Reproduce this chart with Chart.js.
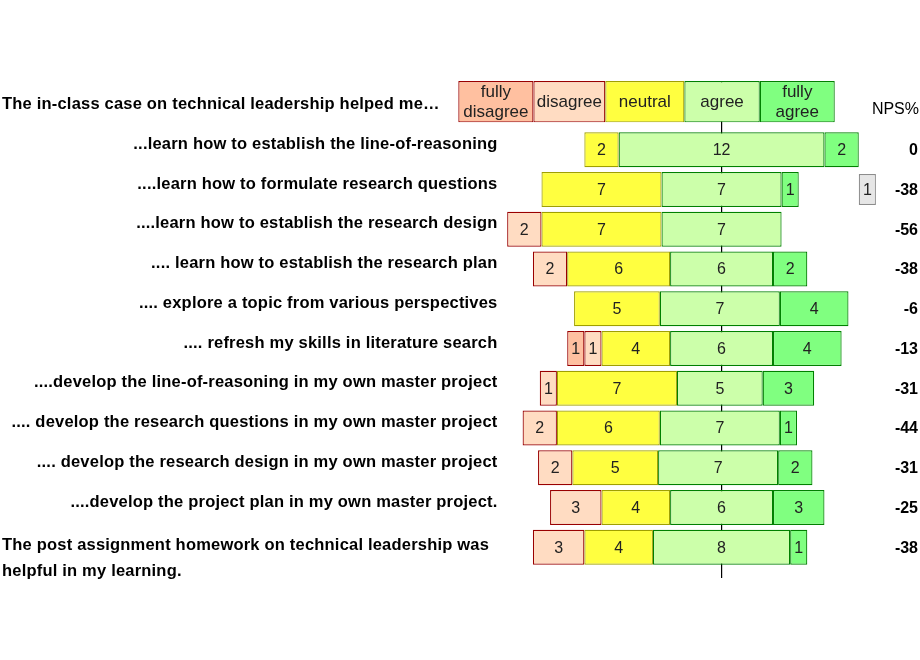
<!DOCTYPE html>
<html>
<head>
<meta charset="utf-8">
<title>Technical leadership - evaluation</title>
<script src="https://cdn.jsdelivr.net/npm/chart.js@4.4.1/dist/chart.umd.min.js"></script>
<style>
  html, body { margin: 0; padding: 0; background: #fff; }
  #wrap { width: 920px; height: 660px; }
</style>
</head>
<body>
<div id="wrap"><canvas id="likert" width="920" height="660"></canvas></div>
<script>
// --- data ---
const headerText = 'The in-class case on technical leadership helped me…';
const statements = [
    '...learn how to establish the line-of-reasoning',
    '....learn how to formulate research questions',
    '....learn how to establish the research design',
    '.... learn how to establish the research plan',
    '.... explore a topic from various perspectives',
    '.... refresh my skills in literature search',
    '....develop the line-of-reasoning in my own master project',
    '.... develop the research questions in my own master project',
    '.... develop the research design in my own master project',
    '....develop the project plan in my own master project.',
    ['The post assignment homework on technical leadership was', 'helpful in my learning.']
];
const answerLabels = [['fully', 'disagree'], ['disagree'], ['neutral'], ['agree'], ['fully', 'agree']];

const fullyDisagree = [0, 0, 0, 0, 0, 1, 0, 0, 0, 0, 0];
const disagree      = [0, 0, 2, 2, 0, 1, 1, 2, 2, 3, 3];
const neutral       = [2, 7, 7, 6, 5, 4, 7, 6, 5, 4, 4];
const agree         = [12, 7, 7, 6, 7, 6, 5, 7, 7, 6, 8];
const fullyAgree    = [2, 1, 0, 2, 4, 4, 3, 1, 2, 3, 1];
const noAnswer      = [0, 1, 0, 0, 0, 0, 0, 0, 0, 0, 0];
const npsPercent    = [0, -38, -56, -38, -6, -13, -31, -44, -31, -25, -38];
// hidden spacer of the original sheet: where each row's bar begins, left of the centre line
const barStart      = [-8, -10.5, -12.5, -11, -8.6, -9, -10.6, -11.6, -10.7, -10, -11];

// --- layout ---
const HEADER_Y = -1.207;          // header row sits a bit higher than a normal row step
const HEADER_EDGES = [-15.35, -10.97, -6.78, -2.17, 2.23, 6.6];
const NO_ANSWER_AT = 8;
const FONT = '"Liberation Sans", Arial, sans-serif';

const fills = ['#ffc0a0', '#ffdcc2', '#ffff40', '#ccffaa', '#80ff80'];
const edges = ['#990000', '#990000', '#a0a000', '#008000', '#008000'];
const answers = [fullyDisagree, disagree, neutral, agree, fullyAgree];

const common = {
    borderWidth: 1.2,
    borderSkipped: false,
    grouped: false,
    barPercentage: 4,
    categoryPercentage: 1
};

const rowSets = answers.map((counts, k) => ({
    ...common,
    label: answerLabels[k].join(' '),
    data: counts.map((n, i) => {
        let from = barStart[i];
        for (let j = 0; j < k; j++) from += answers[j][i];
        return n ? { x: [from, from + n], y: i, n: n } : null;
    }).filter(Boolean),
    backgroundColor: fills[k],
    borderColor: edges[k],
    maxBarThickness: 35
}));

const headerSets = answerLabels.map((lines, k) => ({
    ...common,
    label: 'header ' + k,
    data: [{ x: [HEADER_EDGES[k], HEADER_EDGES[k + 1]], y: HEADER_Y, text: lines }],
    backgroundColor: fills[k],
    borderColor: edges[k],
    maxBarThickness: 41.3
}));

const noAnswerSet = {
    ...common,
    label: 'no answer',
    data: noAnswer.map((n, i) => n ? { x: [NO_ANSWER_AT, NO_ANSWER_AT + n], y: i, n: n } : null).filter(Boolean),
    backgroundColor: '#e6e6e6',
    borderColor: '#8c8c8c',
    maxBarThickness: 31
};

// numbers inside the segments and the words in the header boxes
const segmentText = {
    id: 'segmentText',
    afterDatasetsDraw(chart) {
        const ctx = chart.ctx;
        ctx.save();
        ctx.textAlign = 'center';
        ctx.textBaseline = 'middle';
        ctx.fillStyle = '#222';
        chart.data.datasets.forEach((ds, d) => {
            const meta = chart.getDatasetMeta(d);
            ds.data.forEach((item, j) => {
                const p = meta.data[j].getCenterPoint();
                if (item.text) {
                    const lines = item.text;
                    ctx.font = '17px ' + FONT;
                    lines.forEach((t, l) => ctx.fillText(t, p.x, p.y + 1 + (l - (lines.length - 1) / 2) * 20));
                } else {
                    ctx.font = '16px ' + FONT;
                    ctx.fillText(String(item.n), p.x, p.y + 1);
                }
            });
        });
        ctx.restore();
    }
};

// statements on the left, NPS column on the right
const rowText = {
    id: 'rowText',
    afterDraw(chart) {
        const ctx = chart.ctx;
        const y = chart.scales.y;
        ctx.save();
        ctx.fillStyle = '#000';
        ctx.textBaseline = 'middle';
        ctx.font = 'bold 16.5px ' + FONT;
        ctx.letterSpacing = '0.2px';
        ctx.textAlign = 'left';
        ctx.fillText(headerText, 2, y.getPixelForValue(HEADER_Y) + 3);
        statements.forEach((s, i) => {
            const py = y.getPixelForValue(i);
            if (Array.isArray(s)) {
                ctx.textAlign = 'left';
                ctx.fillText(s[0], 2, py - 2);
                ctx.fillText(s[1], 2, py + 24.5);
            } else {
                ctx.textAlign = 'right';
                ctx.fillText(s, 497.5, py - 5.5);
            }
        });
        ctx.letterSpacing = '0px';
        ctx.textAlign = 'right';
        ctx.font = 'bold 16px ' + FONT;
        npsPercent.forEach((v, i) => ctx.fillText(String(v), 918, y.getPixelForValue(i) + 1));
        ctx.font = '16px ' + FONT;
        ctx.fillText('NPS%', 919, 110);
        ctx.restore();
    }
};

new Chart(document.getElementById('likert').getContext('2d'), {
    type: 'bar',
    data: { datasets: [...headerSets, ...rowSets, noAnswerSet] },
    options: {
        indexAxis: 'y',
        responsive: false,
        animation: false,
        events: [],
        layout: { padding: { top: 81, bottom: 81.7, left: 0, right: 0 } },
        scales: {
            x: {
                type: 'linear',
                min: -42.07,
                max: 11.57,
                ticks: { display: false },
                border: { display: false },
                grid: {
                    drawTicks: false,
                    lineWidth: 1.2,
                    color: c => (c.tick && c.tick.value === 0) ? '#000' : 'rgba(0,0,0,0)'
                },
                afterBuildTicks: s => { s.ticks = [{ value: 0 }]; }
            },
            y: {
                type: 'linear',
                reverse: true,
                offset: false,
                min: -1.728,
                max: 10.78,
                display: false
            }
        },
        plugins: {
            legend: { display: false },
            tooltip: { enabled: false }
        }
    },
    plugins: [segmentText, rowText]
});
</script>
</body>
</html>
